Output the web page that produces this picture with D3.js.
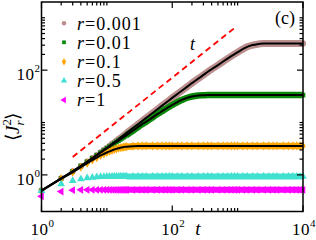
<!DOCTYPE html>
<html><head><meta charset="utf-8">
<script src="https://cdn.jsdelivr.net/npm/d3@7"></script>
<style>html,body{margin:0;padding:0;background:#fff;}svg{display:block;}</style>
</head><body>
<script>
// ---- data ----
const times = [1,2,3,4,5,6,7,8,9,10,11,12,13,14,15,16,17,18,19,20,25,30,35,40,50,60,70,80,90,100,120,140,170,200,250,300,350,400,500,600,700,800,900,1000,1200,1400,1700,2000,2500,3000,3500,4000,5000,6000,7000,8000,9000,10000];
const rLabels = ["0.001","0.01","0.1","0.5","1"];
const vR0001 = [0.5,0.86,1.17,1.48,1.79,2.1,2.4,2.7,3.0,3.3,3.6,3.9,4.2,4.5,4.8,5.1,5.4,5.7,6.0,6.3,7.8,9.3,10.8,12.3,15.2,18.1,21,23.9,26.7,29.5,35,40.5,48.5,56.5,69,81,93,104,125,146,166,185,203,220,252,279,301,313,321,323,324,324,324,324,324,324,324,324];
const vR001 = [0.5,0.86,1.17,1.48,1.78,2.08,2.37,2.65,2.93,3.2,3.47,3.73,3.99,4.25,4.5,4.75,5.0,5.25,5.5,5.74,6.95,8.2,9.4,10.4,12.5,14.6,16.5,18.3,20,21.6,24.5,27,29.7,31.4,32.8,33.2,33.4,33.4,33.4,33.4,33.4,33.4,33.4,33.4,33.4,33.4,33.4,33.4,33.4,33.4,33.4,33.4,33.4,33.4,33.4,33.4,33.4,33.4];
const vR01 = [0.5,0.84,1.12,1.4,1.67,1.92,2.14,2.35,2.52,2.68,2.82,2.94,3.05,3.14,3.22,3.29,3.34,3.39,3.43,3.46,3.54,3.57,3.58,3.58,3.58,3.58,3.58,3.58,3.58,3.58,3.58,3.58,3.58,3.58,3.58,3.58,3.58,3.58,3.58,3.58,3.58,3.58,3.58,3.58,3.58,3.58,3.58,3.58,3.58,3.58,3.58,3.58,3.58,3.58,3.58,3.58,3.58,3.58];
const vR05 = [0.5,0.67,0.77,0.83,0.87,0.895,0.91,0.92,0.925,0.93,0.93,0.93,0.93,0.93,0.93,0.93,0.93,0.93,0.93,0.93,0.93,0.93,0.93,0.93,0.93,0.93,0.93,0.93,0.93,0.93,0.93,0.93,0.93,0.93,0.93,0.93,0.93,0.93,0.93,0.93,0.93,0.93,0.93,0.93,0.93,0.93,0.93,0.93,0.93,0.93,0.93,0.93,0.93,0.93,0.93,0.93,0.93,0.93];
const vR1 = [0.39,0.48,0.51,0.52,0.52,0.52,0.52,0.52,0.52,0.52,0.52,0.52,0.52,0.52,0.52,0.52,0.52,0.52,0.52,0.52,0.52,0.52,0.52,0.52,0.52,0.52,0.52,0.52,0.52,0.52,0.52,0.52,0.52,0.52,0.52,0.52,0.52,0.52,0.52,0.52,0.52,0.52,0.52,0.52,0.52,0.52,0.52,0.52,0.52,0.52,0.52,0.52,0.52,0.52,0.52,0.52,0.52,0.52];
const guideT = [3, 900];
const guideV = [2.2, 640];
const xMajor = [1, 100, 10000];
const xMinor = [2,3,4,5,6,7,8,9,10,200,300,400,500,600,700,800,900,1000];
const yMajor = [1, 100];
const yMinor = [2,3,4,5,6,7,8,9,10,200,300,400,500,600,700,800,900,1000];
const xTickExp = ["0","2","4"];
const yTickExp = ["0","2"];

// ---- drawing ----
const W = 316, H = 240;
const svg = d3.select("body").append("svg").attr("width", W).attr("height", H);
const xs = d3.scaleLog().domain([1, 1e4]).range([41.5, 303]);
const ys = d3.scaleLog().domain([0.2, 2000]).range([211.5, 2]);
const serif = "'Liberation Serif','Times New Roman',serif";

const series = [
  {v: vR0001, color: "#bc8f8f", sym: d3.symbolCircle, size: 30, lsize: 16, theory: true, band: 7},
  {v: vR001, color: "#0a8a0a", sym: d3.symbolSquare, size: 22, lsize: 14, theory: true, band: 6.5},
  {v: vR01, color: "#ffa500", sym: d3.symbolDiamond, size: 24, lsize: 16, theory: true, band: 6.5},
  {v: vR05, color: "#40e0d0", sym: d3.symbolTriangle, size: 26, lsize: 17, theory: false, band: 6},
  {v: vR1, color: "#ff00ff", sym: "left", size: 26, lsize: 17, theory: false, band: 6}
];
function sym(s, size) {
  if (s === "left") {
    const a = Math.sqrt(size * 4 / Math.sqrt(3));
    const h = a * Math.sqrt(3) / 2;
    return `M${-h*2/3},0L${h/3},${-a/2}L${h/3},${a/2}Z`;
  }
  return d3.symbol().type(s).size(size)();
}

const line = d3.line().x(d => xs(d[0])).y(d => ys(d[1])).curve(d3.curveMonotoneX);
const plot = svg.append("g");

// bands where markers merge, then markers
series.forEach(s => {
  const pts = times.map((t, i) => [t, s.v[i]]);
  plot.append("path").datum(pts.filter(p => p[0] >= 20))
    .attr("d", line).attr("fill", "none").attr("stroke", s.color)
    .attr("stroke-width", s.band).attr("stroke-linecap", "butt");
  plot.selectAll(null).data(pts).enter().append("path")
    .attr("d", sym(s.sym, s.size))
    .attr("transform", d => `translate(${xs(d[0])},${ys(d[1])})`)
    .attr("fill", s.color);
});
// theory lines
series.filter(s => s.theory).forEach(s => {
  const pts = times.map((t, i) => [t, s.v[i]]);
  plot.append("path").datum(pts).attr("d", line).attr("fill", "none")
    .attr("stroke", "#000").attr("stroke-width", 2);
});
// guide t
svg.append("path").datum(guideT.map((t, i) => [t, guideV[i]]))
  .attr("d", d3.line().x(d => xs(d[0])).y(d => ys(d[1])))
  .attr("stroke", "#ff0000").attr("stroke-width", 1.8).attr("stroke-dasharray", "6,4").attr("fill", "none");
svg.append("text").attr("x", 190).attr("y", 50).attr("font-family", serif)
  .attr("font-style", "italic").attr("font-size", 18).text("t");

// frame
svg.append("rect").attr("x", xs(1)).attr("y", ys(2000)).attr("width", xs(1e4) - xs(1))
  .attr("height", ys(0.2) - ys(2000)).attr("fill", "none").attr("stroke", "#000").attr("stroke-width", 1.5);

// ticks (inward, mirrored)
const ax = svg.append("g").attr("stroke", "#000").attr("stroke-width", 1.2);
function xt(vals, len) {
  vals.forEach(v => {
    const x = xs(v);
    ax.append("line").attr("x1", x).attr("x2", x).attr("y1", ys(0.2)).attr("y2", ys(0.2) - len);
    ax.append("line").attr("x1", x).attr("x2", x).attr("y1", ys(2000)).attr("y2", ys(2000) + len);
  });
}
function yt(vals, len) {
  vals.forEach(v => {
    const y = ys(v);
    ax.append("line").attr("y1", y).attr("y2", y).attr("x1", xs(1)).attr("x2", xs(1) + len);
    ax.append("line").attr("y1", y).attr("y2", y).attr("x1", xs(1e4)).attr("x2", xs(1e4) - len);
  });
}
xt(xMajor, 6); xt(xMinor, 3.5); yt(yMajor, 6); yt(yMinor, 3.5);

// tick labels
xMajor.forEach((v, i) => {
  const t = svg.append("text").attr("x", xs(v) + 1).attr("y", 235).attr("text-anchor", "middle")
    .attr("font-family", serif).attr("font-size", 17).attr("letter-spacing", 0.5);
  t.append("tspan").text("10");
  t.append("tspan").attr("font-size", 11).attr("dy", -8).text(xTickExp[i]);
});
yMajor.forEach((v, i) => {
  const t = svg.append("text").attr("x", 40.5).attr("y", ys(v) + 10).attr("text-anchor", "end")
    .attr("font-family", serif).attr("font-size", 17).attr("letter-spacing", 0.5);
  t.append("tspan").text("10");
  t.append("tspan").attr("font-size", 11).attr("dy", -8).text(yTickExp[i]);
});

// axis titles
svg.append("text").attr("x", 198).attr("y", 235).attr("text-anchor", "middle")
  .attr("font-family", serif).attr("font-style", "italic").attr("font-size", 19).text("t");
const yl = svg.append("text").attr("transform", "translate(19,141) rotate(-90)")
  .attr("font-family", serif).attr("font-size", 19);
yl.append("tspan").text("\u27E8");
yl.append("tspan").attr("font-style", "italic").text("J");
yl.append("tspan").attr("font-size", 13).attr("dy", -8).text("2");
yl.append("tspan").attr("font-size", 13).attr("font-style", "italic").attr("dx", -6.5).attr("dy", 13).text("r");
yl.append("tspan").attr("dy", -5).attr("dx", 1).text("\u27E9");

svg.append("text").attr("x", 275).attr("y", 24).attr("font-family", serif)
  .attr("font-size", 18).text("(c)");

// legend
const legY = [23.3, 42.3, 61.7, 80.7, 100];
series.forEach((s, i) => {
  svg.append("path").attr("d", sym(s.sym, s.lsize))
    .attr("transform", `translate(64,${legY[i]})`).attr("fill", s.color);
  const t = svg.append("text").attr("x", 77).attr("y", legY[i] + 6.3)
    .attr("font-family", serif).attr("font-size", 18).attr("letter-spacing", 1);
  t.append("tspan").attr("font-style", "italic").text("r");
  t.append("tspan").text("=" + rLabels[i]);
});
</script>
</body></html>
